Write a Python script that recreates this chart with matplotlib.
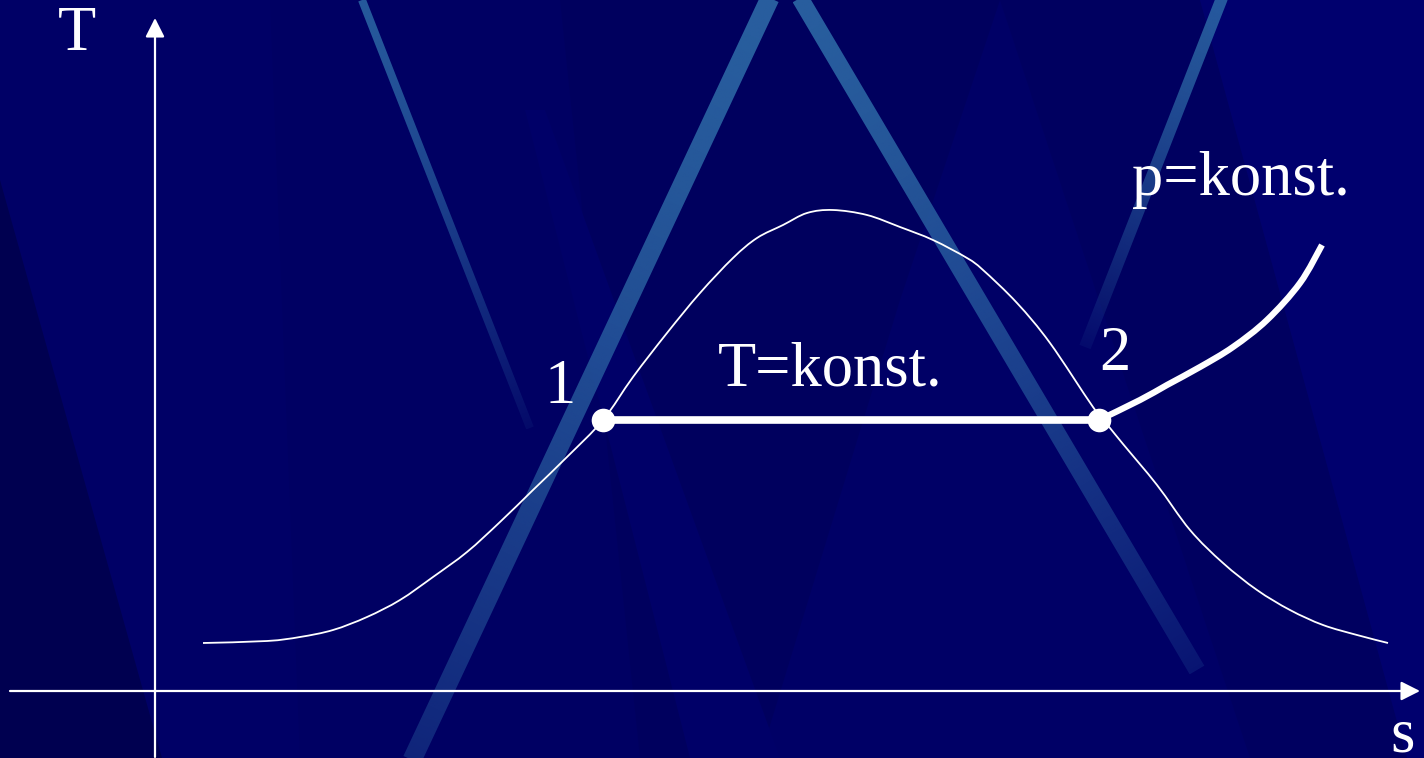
import numpy as np
import matplotlib
matplotlib.use("Agg")
import matplotlib.pyplot as plt
from matplotlib.patches import Polygon, PathPatch
from matplotlib.path import Path

# saturation dome (s, T), origin at the axis crossing
dome_s = [48, 112, 145, 178, 212, 245, 278, 312, 345, 378, 412, 448, 478, 512, 545,
          578, 602, 628, 652, 678, 712, 745, 778, 812, 828, 862, 895, 938, 955, 968,
          1002, 1035, 1068, 1102, 1135, 1168, 1202, 1233]
dome_T = [48, 50, 54, 61, 74, 91, 114, 139, 169, 201, 234, 271, 314, 358, 398,
          433, 453, 466, 478, 481, 476, 464, 451, 433, 421, 388, 348, 284, 263, 247,
          206, 161, 128, 101, 81, 66, 56, 48]

# isobar beyond point 2
p_s = [944, 985, 1012, 1045, 1078, 1112, 1145, 1167]
p_T = [271, 291, 306, 324, 344, 371, 408, 446]

# state points
pts_s = [448, 944]
pts_T = [271, 271]
pts_lbl = ['1', '2']

# background streaks (pixel coords): top, bottom, width, alpha top, alpha bottom
streaks = [
    ((362, 0), (530, 428), 8, 0.85, 0.1),
    ((770, -2), (412, 760), 19, 0.9, 0.35),
    ((800, -2), (1197, 670), 17, 0.9, 0.2),
    ((1222, -2), (1085, 347), 12, 0.85, 0.1),
]

# subtle background planes (pixel coords)
planes = [
    ([(0, 180), (0, 758), (162, 758)], '#000050'),
    ([(270, 0), (560, 0), (640, 758), (300, 758)], '#000063'),
    ([(560, 0), (1000, 0), (900, 300), (760, 758), (640, 758)], '#00005e'),
    ([(1000, 0), (1200, 0), (1407, 758), (1250, 758)], '#000060'),
    ([(1200, 0), (1424, 0), (1424, 758), (1407, 758)], '#00006e'),
    ([(525, 110), (545, 110), (780, 758), (690, 758)], '#000068'),
]


def smooth_path(xs, ys):
    # Catmull-Rom through the read points, drawn as cubic Bezier segments
    P = np.column_stack([xs, ys]).astype(float)
    P = np.vstack([P[0], P, P[-1]])
    verts = [P[1]]
    codes = [Path.MOVETO]
    for i in range(1, len(P) - 2):
        c1 = P[i] + (P[i + 1] - P[i - 1]) / 6
        c2 = P[i + 1] - (P[i + 2] - P[i]) / 6
        verts += [c1, c2, P[i + 1]]
        codes += [Path.CURVE4] * 3
    return Path(verts, codes)


fig = plt.figure(figsize=(14.24, 7.58), dpi=100)
bg = fig.add_axes([0, 0, 1, 1])
bg.add_patch(Polygon([(0, 0), (1424, 0), (1424, 758), (0, 758)], color='#000066', lw=0))
for verts, c in planes:
    bg.add_patch(Polygon(verts, color=c, lw=0))

streak_rgb = np.array([45, 105, 166]) / 255
for (tx, ty), (bx, by), w, a0, a1 in streaks:
    d = np.array([bx - tx, by - ty], float)
    L = np.hypot(*d)
    d /= L
    n = np.array([-d[1], d[0]]) * w / 2
    t0, b0 = np.array([tx, ty], float), np.array([bx, by], float)
    quad = np.array([t0 + n, b0 + n, b0 - n, t0 - n])
    x0, x1 = quad[:, 0].min(), quad[:, 0].max()
    y0, y1 = quad[:, 1].min(), quad[:, 1].max()
    gx, gy = np.meshgrid(np.linspace(x0, x1, 200), np.linspace(y0, y1, 400))
    t = np.clip(((gx - tx) * d[0] + (gy - ty) * d[1]) / L, 0, 1)
    img = np.zeros(gx.shape + (4,))
    img[..., :3] = streak_rgb
    img[..., 3] = a0 + (a1 - a0) * t ** 1.5
    poly = Polygon(quad, closed=True, facecolor='none', lw=0)
    bg.add_patch(poly)
    im = bg.imshow(img, extent=(x0, x1, y1, y0), interpolation='bilinear',
                   aspect='auto', zorder=3)
    im.set_clip_path(poly)

bg.set_xlim(0, 1424)
bg.set_ylim(758, 0)
bg.axis('off')

ax = fig.add_axes([0, 0, 1, 1])
ax.set_facecolor('none')
ax.set_xlim(-155, 1269)
ax.set_ylim(-67, 691)
ax.axis('off')

serif = 'Liberation Serif'
fs = 45

# axes with arrows
arr = dict(arrowstyle='-|>,head_length=1.15,head_width=0.58', mutation_scale=10,
           color='white', lw=1.6, shrinkA=0, shrinkB=0)
ax.annotate('', xy=(0, 673), xytext=(0, -66), arrowprops=arr)
ax.annotate('', xy=(1265, 0), xytext=(-145, 0), arrowprops=arr)

ax.add_patch(PathPatch(smooth_path(dome_s, dome_T), fc='none', ec='white', lw=1.3))
ax.plot(pts_s, pts_T, color='white', lw=5.5, solid_capstyle='butt')
ax.add_patch(PathPatch(smooth_path(p_s, p_T), fc='none', ec='white', lw=4.5,
                       capstyle='butt'))
ax.plot(pts_s, pts_T, 'o', color='white', ms=17, mec='none')

ax.text(-97, 641, 'T', color='white', fontsize=fs, family=serif, va='baseline')
ax.text(1235, -60, 's', color='white', fontsize=fs, family=serif, va='baseline')
ax.text(390, 288, pts_lbl[0], color='white', fontsize=fs, family=serif, va='baseline')
ax.text(944, 321, pts_lbl[1], color='white', fontsize=fs, family=serif, va='baseline')
ax.text(563, 305, 'T=konst.', color='white', fontsize=fs, family=serif, va='baseline')
ax.text(977, 496, 'p=konst.', color='white', fontsize=fs, family=serif, va='baseline')

fig.savefig('out.png', dpi=100)
